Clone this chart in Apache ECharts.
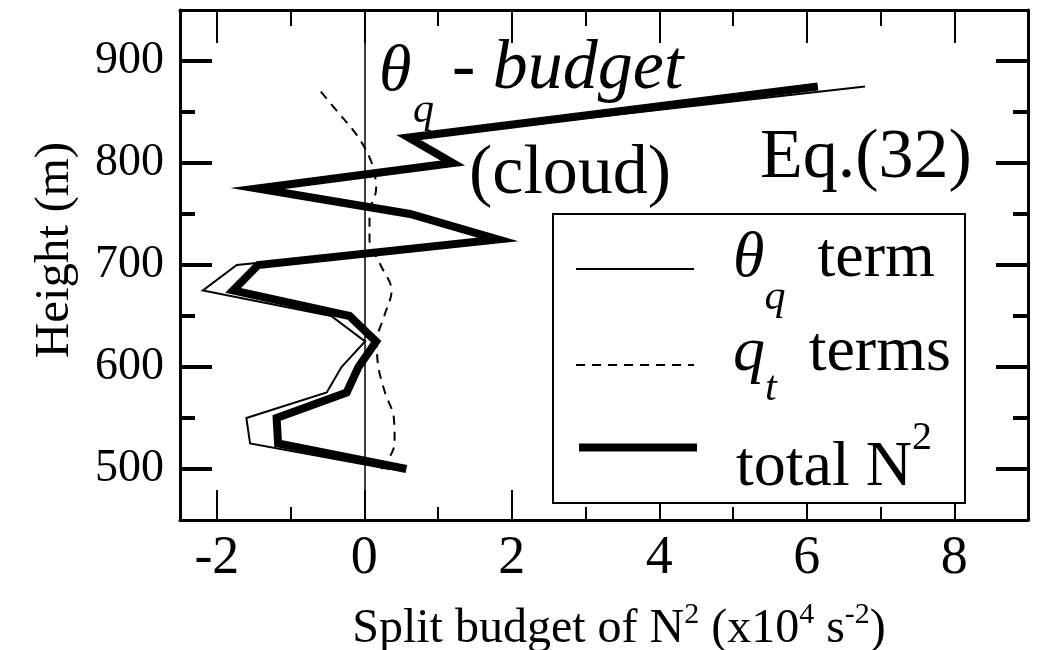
<!DOCTYPE html>
<html>
<head>
<meta charset="utf-8">
<script src="https://cdn.jsdelivr.net/npm/echarts@6/dist/echarts.min.js"></script>
<style>
  html, body { margin: 0; padding: 0; background: #fff; }
  #chart { width: 1050px; height: 650px; }
</style>
</head>
<body>
<div id="chart"></div>
<script>
// heights (m) and the three profiles (x10^4 s^-2)
const heights = [500, 525, 550, 575, 600, 625, 650, 675, 700, 725, 750, 775, 800, 825, 850, 875];
const thetaTerm = [0.34, -1.55, -1.60, -0.51, -0.31, 0.01, -0.45, -2.19, -1.73, 1.74, 0.55, -1.61, 1.10, 0.68, null, 6.79];
const qtTerms = [0.23, 0.41, 0.40, 0.28, 0.19, 0.17, 0.27, 0.37, 0.22, 0.07, 0.07, 0.16, 0.10, -0.08, -0.36, -0.65];
const totalN2 = [0.57, -1.17, -1.19, -0.24, -0.08, 0.16, -0.20, -1.78, -1.44, 1.81, 0.62, -1.45, 1.20, 0.60, null, 6.15];

// axis ticks
const xMajor = [-2, 0, 2, 4, 6, 8];
const xMinor = [-1, 1, 3, 5, 7];
const yMajor = [500, 600, 700, 800, 900];
const yMinor = [550, 650, 750, 850];

const FONT = 'Liberation Serif';

function pairs(values) {
  return heights
    .map((h, i) => [values[i], h])
    .filter(p => p[0] !== null);
}

function xAxisDef(pos, ticks, len, main) {
  return {
    type: 'value',
    position: pos,
    min: -2.5,
    max: 9,
    axisLine: { show: main, onZero: false, lineStyle: { color: '#000', width: 3 } },
    axisTick: {
      show: true,
      inside: true,
      length: len,
      customValues: ticks,
      lineStyle: { color: '#000', width: 2 },
    },
    axisLabel: { show: false },
    splitLine: { show: false },
  };
}

function yAxisDef(pos, ticks, len, main) {
  return {
    type: 'value',
    position: pos,
    min: 450,
    max: 950,
    axisLine: { show: main, onZero: false, lineStyle: { color: '#000', width: 3 } },
    axisTick: {
      show: true,
      inside: true,
      length: len,
      customValues: ticks,
      lineStyle: { color: '#000', width: 4 },
    },
    axisLabel: { show: false },
    splitLine: { show: false },
  };
}

const xBottom = xAxisDef('bottom', xMajor, 30, true);
xBottom.axisLabel = {
  show: true,
  customValues: xMajor,
  fontFamily: FONT,
  fontSize: 54,
  color: '#000',
  margin: 12,
};
xBottom.name = '{n|Split budget of N}{sup|2}{n| (x10}{sup|4}{n| s}{sup|-2}{n|)}';
xBottom.nameLocation = 'middle';
xBottom.nameGap = 80;
xBottom.nameTextStyle = {
  padding: [0, 0, 0, 30],
  rich: {
    n: { fontFamily: FONT, fontSize: 48, color: '#000' },
    sup: { fontFamily: FONT, fontSize: 30, color: '#000', padding: [0, 0, 28, 0] },
  },
};

const yLeft = yAxisDef('left', yMajor, 32, true);
yLeft.axisLabel = {
  show: true,
  customValues: yMajor,
  fontFamily: FONT,
  fontSize: 46,
  color: '#000',
  margin: 16,
};
yLeft.name = 'Height (m)';
yLeft.nameLocation = 'middle';
yLeft.nameGap = 100;
yLeft.nameTextStyle = { fontFamily: FONT, fontSize: 49, color: '#000', padding: [0, 0, 0, 30] };

const legendRich = {
  g: { width: 34 },
  it: { fontFamily: FONT, fontSize: 64, fontStyle: 'italic', color: '#000', padding: [5, 0, 25, 0] },
  sub: { fontFamily: FONT, fontSize: 42, fontStyle: 'italic', color: '#000', padding: [58, 0, 0, 0] },
  r: { fontFamily: FONT, fontSize: 64, color: '#000', padding: [5, 0, 25, 0] },
  it2: { fontFamily: FONT, fontSize: 64, fontStyle: 'italic', color: '#000', padding: [0, 0, 24, 0] },
  sub2: { fontFamily: FONT, fontSize: 42, fontStyle: 'italic', color: '#000', padding: [48, 0, 0, 0] },
  r2: { fontFamily: FONT, fontSize: 64, color: '#000', padding: [0, 0, 24, 0] },
  rt: { fontFamily: FONT, fontSize: 64, color: '#000', padding: [42, 0, 0, 0] },
  sup: { fontFamily: FONT, fontSize: 40, color: '#000', padding: [0, 0, 19, 0] },
};

const legendText = {
  'theta': '{g| }{it|θ}{sub|q}{r|  term}',
  'qt': '{g| }{it2|q}{sub2|t}{r2|  terms}',
  'total': '{g| }{rt|total N}{sup|2}',
};

const legendRows = [
  { name: 'theta', top: 227, lineStyle: { width: 2, color: '#000', type: 'solid' } },
  { name: 'qt', top: 321, lineStyle: { width: 2, color: '#000', type: [9, 7] } },
  { name: 'total', top: 418, lineStyle: { width: 8, color: '#000', type: 'solid' } },
];

var myChart = echarts.init(document.getElementById('chart'));

const option = {
  animation: false,
  backgroundColor: '#fff',
  grid: { left: 180, right: 22, top: 10, bottom: 130, containLabel: false, outerBoundsMode: 'none' },
  xAxis: [
    xBottom,
    xAxisDef('bottom', xMinor, 13, false),
    xAxisDef('top', xMajor, 33, true),
    xAxisDef('top', xMinor, 16, false),
  ],
  yAxis: [
    yLeft,
    yAxisDef('left', yMinor, 15, false),
    yAxisDef('right', yMajor, 32, true),
    yAxisDef('right', yMinor, 15, false),
  ],
  // one legend per row so each row can be placed on its own
  legend: legendRows.map(row => ({
    orient: 'vertical',
    left: 575,
    top: row.top,
    padding: 0,
    itemWidth: 118,
    itemHeight: 20,
    selectedMode: false,
    z: 20,
    data: [{ name: row.name, itemStyle: { opacity: 0 }, lineStyle: row.lineStyle }],
    formatter: function (name) {
      return legendText[name];
    },
    textStyle: { rich: legendRich },
  })),
  graphic: [
    {
      type: 'rect', z: 10,
      shape: { x: 553, y: 214, width: 412, height: 289 },
      style: { fill: '#fff', stroke: '#000', lineWidth: 2 },
    },
    {
      type: 'text', left: 379, top: 40, z: 100,
      style: { text: 'θ', font: 'italic 66px "Liberation Serif"', fill: '#000' },
    },
    {
      type: 'text', left: 413, top: 90, z: 100,
      style: { text: 'q', font: 'italic 42px "Liberation Serif"', fill: '#000' },
    },
    {
      type: 'text', left: 452, top: 35, z: 100,
      style: { text: '- budget', font: 'italic 70px "Liberation Serif"', fill: '#000' },
    },
    {
      type: 'text', left: 469, top: 140, z: 100,
      style: { text: '(cloud)', font: '70px "Liberation Serif"', fill: '#000' },
    },
    {
      type: 'text', left: 760, top: 124, z: 100,
      style: { text: 'Eq.(32)', font: '70px "Liberation Serif"', fill: '#000' },
    },
  ],
  series: [
    {
      name: 'total',
      type: 'line',
      symbol: 'none',
      data: pairs(totalN2),
      lineStyle: { color: '#000', width: 8, join: 'miter', miterLimit: 10, cap: 'butt' },
      itemStyle: { color: '#000' },
      z: 2,
    },
    {
      name: 'theta',
      type: 'line',
      symbol: 'none',
      data: pairs(thetaTerm),
      lineStyle: { color: '#000', width: 2, join: 'miter' },
      itemStyle: { color: '#000' },
      z: 3,
      markLine: {
        silent: true,
        symbol: 'none',
        label: { show: false },
        lineStyle: { color: '#000', width: 1.5, type: 'solid' },
        data: [{ xAxis: 0 }],
      },
    },
    {
      name: 'qt',
      type: 'line',
      symbol: 'none',
      smooth: 0.35,
      data: pairs(qtTerms),
      lineStyle: { color: '#000', width: 2, type: [9, 7] },
      itemStyle: { color: '#000' },
      z: 4,
    },
  ],
};

myChart.setOption(option);
</script>
</body>
</html>
